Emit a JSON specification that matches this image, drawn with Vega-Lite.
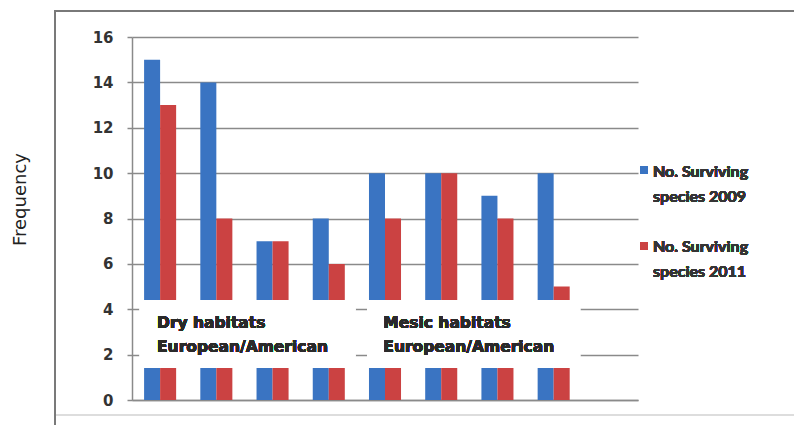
{
  "$schema": "https://vega.github.io/schema/vega-lite/v6.json",
  "width": 506,
  "height": 363,
  "autosize": {"type": "none"},
  "padding": {"left": 132, "top": 37, "right": 156, "bottom": 25},
  "background": "white",
  "config": {
    "view": {"stroke": null},
    "font": "DejaVu Sans"
  },
  "datasets": {
    "survival": [
      {"group": "1", "year": "2009", "count": 15},
      {"group": "1", "year": "2011", "count": 13},
      {"group": "2", "year": "2009", "count": 14},
      {"group": "2", "year": "2011", "count": 8},
      {"group": "3", "year": "2009", "count": 7},
      {"group": "3", "year": "2011", "count": 7},
      {"group": "4", "year": "2009", "count": 8},
      {"group": "4", "year": "2011", "count": 6},
      {"group": "5", "year": "2009", "count": 10},
      {"group": "5", "year": "2011", "count": 8},
      {"group": "6", "year": "2009", "count": 10},
      {"group": "6", "year": "2011", "count": 10},
      {"group": "7", "year": "2009", "count": 9},
      {"group": "7", "year": "2011", "count": 8},
      {"group": "8", "year": "2009", "count": 10},
      {"group": "8", "year": "2011", "count": 5}
    ]
  },
  "data": {"name": "survival"},
  "resolve": {"scale": {"x": "independent"}, "axis": {"x": "independent"}},
  "encoding": {
    "y": {
      "field": "count",
      "type": "quantitative",
      "scale": {"domain": [0, 16], "nice": false},
      "axis": {
        "title": "Frequency",
        "titleFont": "DejaVu Sans",
        "titleFontSize": 18,
        "titleFontWeight": "normal",
        "titleColor": "#222222",
        "titleX": -112,
        "titleY": 162,
        "titleAngle": -90,
        "titleAlign": "center",
        "titleBaseline": "middle",
        "values": [0, 2, 4, 6, 8, 10, 12, 14, 16],
        "labelFont": "DejaVu Sans",
        "labelFontSize": 15,
        "labelFontWeight": "bold",
        "labelColor": "#333333",
        "labelPadding": 14,
        "tickSize": 5,
        "tickColor": "#8a8a8a",
        "tickWidth": 1.5,
        "domainColor": "#8a8a8a",
        "domainWidth": 1.5,
        "gridColor": "#8a8a8a",
        "gridWidth": 1.5
      }
    }
  },
  "layer": [
    {
      "mark": {"type": "bar", "stroke": null},
      "encoding": {
        "x": {
          "field": "group",
          "type": "nominal",
          "scale": {
            "domain": ["1", "2", "3", "4", "5", "6", "7", "8", "9"],
            "paddingInner": 0.43,
            "paddingOuter": 0.215
          },
          "axis": {
            "title": null,
            "labels": false,
            "ticks": false,
            "grid": false,
            "domainColor": "#8a8a8a",
            "domainWidth": 1.5
          }
        },
        "xOffset": {
          "field": "year",
          "type": "nominal",
          "scale": {"paddingInner": 0, "paddingOuter": 0}
        },
        "color": {
          "field": "year",
          "type": "nominal",
          "scale": {"domain": ["2009", "2011"], "range": ["#3a74c2", "#cb4242"]},
          "legend": null
        }
      }
    },
    {
      "layer": [
        {
          "mark": {"type": "rect", "fillOpacity": 0, "stroke": "#7a7a7a", "strokeWidth": 1.5},
          "encoding": {
            "x": {"datum": -0.87, "scale": {"domain": [0.5, 9.5], "nice": false, "zero": false, "padding": 0}, "axis": null},
            "x2": {"datum": 12.5},
            "y": {"datum": 17.15},
            "y2": {"datum": -1.6}
          }
        },
        {
          "mark": {"type": "rule", "stroke": "#dddddd", "strokeWidth": 1.5},
          "encoding": {
            "x": {"datum": -0.85, "scale": {"domain": [0.5, 9.5], "nice": false, "zero": false, "padding": 0}, "axis": null},
            "x2": {"datum": 12.5},
            "y": {"datum": -0.66}
          }
        },
        {
          "mark": {"type": "rect", "fill": "white"},
          "encoding": {
            "x": {"datum": 0.64, "scale": {"domain": [0.5, 9.5], "nice": false, "zero": false, "padding": 0}, "axis": null},
            "x2": {"datum": 4.47},
            "y": {"datum": 1.41},
            "y2": {"datum": 4.4}
          }
        },
        {
          "mark": {"type": "rect", "fill": "white"},
          "encoding": {
            "x": {"datum": 4.68, "scale": {"domain": [0.5, 9.5], "nice": false, "zero": false, "padding": 0}, "axis": null},
            "x2": {"datum": 8.47},
            "y": {"datum": 1.41},
            "y2": {"datum": 4.4}
          }
        },
        {
          "mark": {
            "type": "text",
            "align": "left",
            "baseline": "alphabetic",
            "font": "DejaVu Sans",
            "fontSize": 15.5,
            "fontWeight": "bold",
            "color": "#2a2a2a",
            "lineHeight": 24
          },
          "encoding": {
            "x": {"datum": 0.945, "scale": {"domain": [0.5, 9.5], "nice": false, "zero": false, "padding": 0}, "axis": null},
            "y": {"datum": 3.17},
            "text": {"value": ["Dry habitats", "European/American"]}
          }
        },
        {
          "mark": {
            "type": "text",
            "align": "left",
            "baseline": "alphabetic",
            "font": "DejaVu Sans",
            "fontSize": 15.5,
            "fontWeight": "bold",
            "color": "#2a2a2a",
            "lineHeight": 24
          },
          "encoding": {
            "x": {"datum": 4.97, "scale": {"domain": [0.5, 9.5], "nice": false, "zero": false, "padding": 0}, "axis": null},
            "y": {"datum": 3.17},
            "text": {"value": ["Mesic habitats", "European/American"]}
          }
        },
        {
          "mark": {"type": "square", "size": 49, "filled": true, "opacity": 1},
          "encoding": {
            "x": {"datum": 9.607, "scale": {"domain": [0.5, 9.5], "nice": false, "zero": false, "padding": 0}, "axis": null},
            "y": {"datum": 10.138},
            "color": {"datum": "2009", "type": "nominal", "legend": null}
          }
        },
        {
          "mark": {"type": "square", "size": 49, "filled": true, "opacity": 1},
          "encoding": {
            "x": {"datum": 9.607, "scale": {"domain": [0.5, 9.5], "nice": false, "zero": false, "padding": 0}, "axis": null},
            "y": {"datum": 6.788},
            "color": {"datum": "2011", "type": "nominal", "legend": null}
          }
        },
        {
          "mark": {
            "type": "text",
            "align": "left",
            "baseline": "alphabetic",
            "font": "Lato",
            "fontSize": 16,
            "fontWeight": "bold",
            "color": "#353535",
            "lineHeight": 25
          },
          "encoding": {
            "x": {"datum": 9.767, "scale": {"domain": [0.5, 9.5], "nice": false, "zero": false, "padding": 0}, "axis": null},
            "y": {"datum": 9.829},
            "text": {"value": ["No. Surviving", "species 2009"]}
          }
        },
        {
          "mark": {
            "type": "text",
            "align": "left",
            "baseline": "alphabetic",
            "font": "Lato",
            "fontSize": 16,
            "fontWeight": "bold",
            "color": "#353535",
            "lineHeight": 25
          },
          "encoding": {
            "x": {"datum": 9.767, "scale": {"domain": [0.5, 9.5], "nice": false, "zero": false, "padding": 0}, "axis": null},
            "y": {"datum": 6.523},
            "text": {"value": ["No. Surviving", "species 2011"]}
          }
        }
      ]
    }
  ]
}
